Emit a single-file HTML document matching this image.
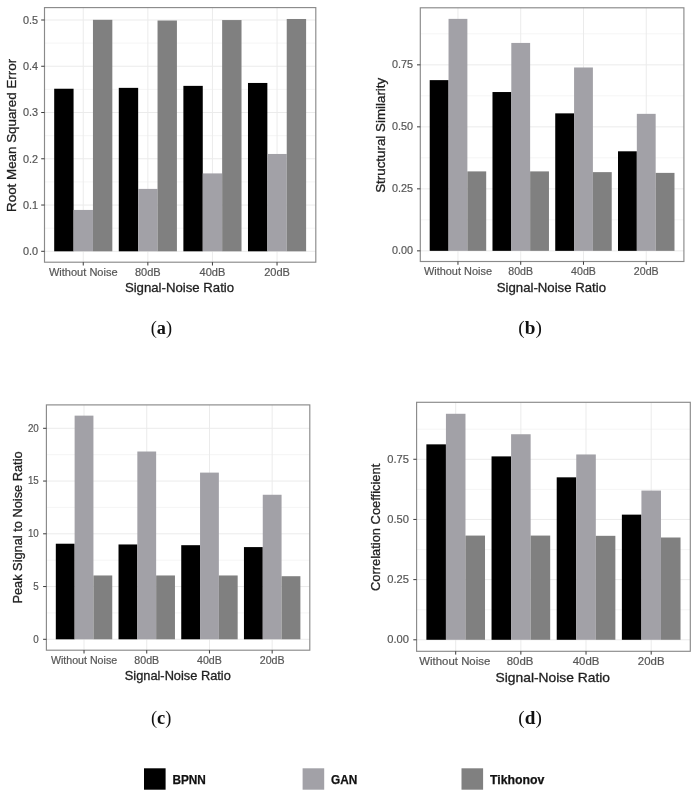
<!DOCTYPE html>
<html><head><meta charset="utf-8"><style>
html,body{margin:0;padding:0;background:#fff;}
svg{display:block;filter:blur(0.4px);}
text{font-family:"Liberation Sans",sans-serif;}
text.t{stroke:#222;stroke-width:0.3px;}
text.k{stroke:#5a5a5a;stroke-width:0.2px;}
text.lbl{font-family:"Liberation Serif",serif;}
</style></head><body>
<svg width="698" height="796" viewBox="0 0 698 796">
<rect width="698" height="796" fill="#fff"/>
<line x1="44.5" x2="315.8" y1="228.17" y2="228.17" stroke="#f3f3f3" stroke-width="0.8"/>
<line x1="44.5" x2="315.8" y1="181.91" y2="181.91" stroke="#f3f3f3" stroke-width="0.8"/>
<line x1="44.5" x2="315.8" y1="135.65" y2="135.65" stroke="#f3f3f3" stroke-width="0.8"/>
<line x1="44.5" x2="315.8" y1="89.39" y2="89.39" stroke="#f3f3f3" stroke-width="0.8"/>
<line x1="44.5" x2="315.8" y1="43.13" y2="43.13" stroke="#f3f3f3" stroke-width="0.8"/>
<line x1="44.5" x2="315.8" y1="251.3" y2="251.3" stroke="#ebebeb" stroke-width="1"/>
<line x1="44.5" x2="315.8" y1="205.04" y2="205.04" stroke="#ebebeb" stroke-width="1"/>
<line x1="44.5" x2="315.8" y1="158.78" y2="158.78" stroke="#ebebeb" stroke-width="1"/>
<line x1="44.5" x2="315.8" y1="112.52" y2="112.52" stroke="#ebebeb" stroke-width="1"/>
<line x1="44.5" x2="315.8" y1="66.26" y2="66.26" stroke="#ebebeb" stroke-width="1"/>
<line x1="44.5" x2="315.8" y1="20" y2="20" stroke="#ebebeb" stroke-width="1"/>
<line x1="83.26" x2="83.26" y1="7.6" y2="262.2" stroke="#ebebeb" stroke-width="1"/>
<line x1="147.85" x2="147.85" y1="7.6" y2="262.2" stroke="#ebebeb" stroke-width="1"/>
<line x1="212.45" x2="212.45" y1="7.6" y2="262.2" stroke="#ebebeb" stroke-width="1"/>
<line x1="277.04" x2="277.04" y1="7.6" y2="262.2" stroke="#ebebeb" stroke-width="1"/>
<rect x="54.19" y="88.74" width="19.38" height="162.56" fill="#000000"/>
<rect x="73.57" y="209.94" width="19.38" height="41.36" fill="#a2a1a7"/>
<rect x="92.95" y="19.81" width="19.38" height="231.49" fill="#808080"/>
<rect x="118.78" y="87.86" width="19.38" height="163.44" fill="#000000"/>
<rect x="138.16" y="188.9" width="19.38" height="62.4" fill="#a2a1a7"/>
<rect x="157.54" y="20.51" width="19.38" height="230.79" fill="#808080"/>
<rect x="183.38" y="85.87" width="19.38" height="165.43" fill="#000000"/>
<rect x="202.76" y="173.4" width="19.38" height="77.9" fill="#a2a1a7"/>
<rect x="222.14" y="20.05" width="19.38" height="231.25" fill="#808080"/>
<rect x="247.98" y="82.96" width="19.38" height="168.34" fill="#000000"/>
<rect x="267.35" y="153.97" width="19.38" height="97.33" fill="#a2a1a7"/>
<rect x="286.73" y="18.98" width="19.38" height="232.32" fill="#808080"/>
<rect x="44.5" y="7.6" width="271.3" height="254.6" fill="none" stroke="#8a8a8a" stroke-width="1.15"/>
<line x1="41.2" x2="44.5" y1="251.3" y2="251.3" stroke="#3a3a3a" stroke-width="1"/>
<text x="38" y="255.09" font-size="10.6" text-anchor="end" fill="#555555" class="k" textLength="15.1" lengthAdjust="spacingAndGlyphs">0.0</text>
<line x1="41.2" x2="44.5" y1="205.04" y2="205.04" stroke="#3a3a3a" stroke-width="1"/>
<text x="38" y="208.83" font-size="10.6" text-anchor="end" fill="#555555" class="k" textLength="15.1" lengthAdjust="spacingAndGlyphs">0.1</text>
<line x1="41.2" x2="44.5" y1="158.78" y2="158.78" stroke="#3a3a3a" stroke-width="1"/>
<text x="38" y="162.57" font-size="10.6" text-anchor="end" fill="#555555" class="k" textLength="15.1" lengthAdjust="spacingAndGlyphs">0.2</text>
<line x1="41.2" x2="44.5" y1="112.52" y2="112.52" stroke="#3a3a3a" stroke-width="1"/>
<text x="38" y="116.31" font-size="10.6" text-anchor="end" fill="#555555" class="k" textLength="15.1" lengthAdjust="spacingAndGlyphs">0.3</text>
<line x1="41.2" x2="44.5" y1="66.26" y2="66.26" stroke="#3a3a3a" stroke-width="1"/>
<text x="38" y="70.05" font-size="10.6" text-anchor="end" fill="#555555" class="k" textLength="15.1" lengthAdjust="spacingAndGlyphs">0.4</text>
<line x1="41.2" x2="44.5" y1="20" y2="20" stroke="#3a3a3a" stroke-width="1"/>
<text x="38" y="23.79" font-size="10.6" text-anchor="end" fill="#555555" class="k" textLength="15.1" lengthAdjust="spacingAndGlyphs">0.5</text>
<line x1="83.26" x2="83.26" y1="262.2" y2="265.5" stroke="#3a3a3a" stroke-width="1"/>
<text x="83.26" y="276" font-size="10.9" text-anchor="middle" fill="#555555" class="k" textLength="68.7" lengthAdjust="spacingAndGlyphs">Without Noise</text>
<line x1="147.85" x2="147.85" y1="262.2" y2="265.5" stroke="#3a3a3a" stroke-width="1"/>
<text x="147.85" y="276" font-size="10.9" text-anchor="middle" fill="#555555" class="k" textLength="25.77" lengthAdjust="spacingAndGlyphs">80dB</text>
<line x1="212.45" x2="212.45" y1="262.2" y2="265.5" stroke="#3a3a3a" stroke-width="1"/>
<text x="212.45" y="276" font-size="10.9" text-anchor="middle" fill="#555555" class="k" textLength="25.77" lengthAdjust="spacingAndGlyphs">40dB</text>
<line x1="277.04" x2="277.04" y1="262.2" y2="265.5" stroke="#3a3a3a" stroke-width="1"/>
<text x="277.04" y="276" font-size="10.9" text-anchor="middle" fill="#555555" class="k" textLength="25.77" lengthAdjust="spacingAndGlyphs">20dB</text>
<text x="179.5" y="292.4" font-size="13.2" text-anchor="middle" fill="#1e1e1e" class="t">Signal-Noise Ratio</text>
<text transform="translate(16.3,135.4) rotate(-90)" font-size="13.3" text-anchor="middle" fill="#1e1e1e" class="t" textLength="153" lengthAdjust="spacingAndGlyphs">Root Mean Squared Error</text>
<line x1="420.3" x2="683.9" y1="219.85" y2="219.85" stroke="#f3f3f3" stroke-width="0.8"/>
<line x1="420.3" x2="683.9" y1="157.85" y2="157.85" stroke="#f3f3f3" stroke-width="0.8"/>
<line x1="420.3" x2="683.9" y1="95.85" y2="95.85" stroke="#f3f3f3" stroke-width="0.8"/>
<line x1="420.3" x2="683.9" y1="33.85" y2="33.85" stroke="#f3f3f3" stroke-width="0.8"/>
<line x1="420.3" x2="683.9" y1="250.85" y2="250.85" stroke="#ebebeb" stroke-width="1"/>
<line x1="420.3" x2="683.9" y1="188.85" y2="188.85" stroke="#ebebeb" stroke-width="1"/>
<line x1="420.3" x2="683.9" y1="126.85" y2="126.85" stroke="#ebebeb" stroke-width="1"/>
<line x1="420.3" x2="683.9" y1="64.85" y2="64.85" stroke="#ebebeb" stroke-width="1"/>
<line x1="457.96" x2="457.96" y1="7.8" y2="261.5" stroke="#ebebeb" stroke-width="1"/>
<line x1="520.72" x2="520.72" y1="7.8" y2="261.5" stroke="#ebebeb" stroke-width="1"/>
<line x1="583.48" x2="583.48" y1="7.8" y2="261.5" stroke="#ebebeb" stroke-width="1"/>
<line x1="646.24" x2="646.24" y1="7.8" y2="261.5" stroke="#ebebeb" stroke-width="1"/>
<rect x="429.71" y="80.13" width="18.83" height="170.72" fill="#000000"/>
<rect x="448.54" y="18.87" width="18.83" height="231.98" fill="#a2a1a7"/>
<rect x="467.37" y="171.39" width="18.83" height="79.46" fill="#808080"/>
<rect x="492.48" y="92.03" width="18.83" height="158.82" fill="#000000"/>
<rect x="511.3" y="42.93" width="18.83" height="207.92" fill="#a2a1a7"/>
<rect x="530.13" y="171.39" width="18.83" height="79.46" fill="#808080"/>
<rect x="555.24" y="113.36" width="18.83" height="137.49" fill="#000000"/>
<rect x="574.07" y="67.48" width="18.83" height="183.37" fill="#a2a1a7"/>
<rect x="592.9" y="172.13" width="18.83" height="78.72" fill="#808080"/>
<rect x="618" y="151.3" width="18.83" height="99.55" fill="#000000"/>
<rect x="636.83" y="113.85" width="18.83" height="137" fill="#a2a1a7"/>
<rect x="655.66" y="172.88" width="18.83" height="77.97" fill="#808080"/>
<rect x="420.3" y="7.8" width="263.6" height="253.7" fill="none" stroke="#8a8a8a" stroke-width="1.15"/>
<line x1="417" x2="420.3" y1="250.85" y2="250.85" stroke="#3a3a3a" stroke-width="1"/>
<text x="413" y="254.42" font-size="10.8" text-anchor="end" fill="#555555" class="k">0.00</text>
<line x1="417" x2="420.3" y1="188.85" y2="188.85" stroke="#3a3a3a" stroke-width="1"/>
<text x="413" y="192.42" font-size="10.8" text-anchor="end" fill="#555555" class="k">0.25</text>
<line x1="417" x2="420.3" y1="126.85" y2="126.85" stroke="#3a3a3a" stroke-width="1"/>
<text x="413" y="130.42" font-size="10.8" text-anchor="end" fill="#555555" class="k">0.50</text>
<line x1="417" x2="420.3" y1="64.85" y2="64.85" stroke="#3a3a3a" stroke-width="1"/>
<text x="413" y="68.42" font-size="10.8" text-anchor="end" fill="#555555" class="k">0.75</text>
<line x1="457.96" x2="457.96" y1="261.5" y2="264.8" stroke="#3a3a3a" stroke-width="1"/>
<text x="457.96" y="275" font-size="10.8" text-anchor="middle" fill="#555555" class="k" textLength="68.1" lengthAdjust="spacingAndGlyphs">Without Noise</text>
<line x1="520.72" x2="520.72" y1="261.5" y2="264.8" stroke="#3a3a3a" stroke-width="1"/>
<text x="520.72" y="275" font-size="10.8" text-anchor="middle" fill="#555555" class="k" textLength="24.8" lengthAdjust="spacingAndGlyphs">80dB</text>
<line x1="583.48" x2="583.48" y1="261.5" y2="264.8" stroke="#3a3a3a" stroke-width="1"/>
<text x="583.48" y="275" font-size="10.8" text-anchor="middle" fill="#555555" class="k" textLength="24.8" lengthAdjust="spacingAndGlyphs">40dB</text>
<line x1="646.24" x2="646.24" y1="261.5" y2="264.8" stroke="#3a3a3a" stroke-width="1"/>
<text x="646.24" y="275" font-size="10.8" text-anchor="middle" fill="#555555" class="k" textLength="24.8" lengthAdjust="spacingAndGlyphs">20dB</text>
<text x="551.4" y="292.3" font-size="13.2" text-anchor="middle" fill="#1e1e1e" class="t">Signal-Noise Ratio</text>
<text transform="translate(385.3,135.3) rotate(-90)" font-size="13.2" text-anchor="middle" fill="#1e1e1e" class="t" textLength="115" lengthAdjust="spacingAndGlyphs">Structural Similarity</text>
<line x1="46.4" x2="309.8" y1="612.92" y2="612.92" stroke="#f3f3f3" stroke-width="0.8"/>
<line x1="46.4" x2="309.8" y1="560.17" y2="560.17" stroke="#f3f3f3" stroke-width="0.8"/>
<line x1="46.4" x2="309.8" y1="507.42" y2="507.42" stroke="#f3f3f3" stroke-width="0.8"/>
<line x1="46.4" x2="309.8" y1="454.67" y2="454.67" stroke="#f3f3f3" stroke-width="0.8"/>
<line x1="46.4" x2="309.8" y1="639.3" y2="639.3" stroke="#ebebeb" stroke-width="1"/>
<line x1="46.4" x2="309.8" y1="586.55" y2="586.55" stroke="#ebebeb" stroke-width="1"/>
<line x1="46.4" x2="309.8" y1="533.8" y2="533.8" stroke="#ebebeb" stroke-width="1"/>
<line x1="46.4" x2="309.8" y1="481.05" y2="481.05" stroke="#ebebeb" stroke-width="1"/>
<line x1="46.4" x2="309.8" y1="428.3" y2="428.3" stroke="#ebebeb" stroke-width="1"/>
<line x1="84.03" x2="84.03" y1="404.9" y2="650.2" stroke="#ebebeb" stroke-width="1"/>
<line x1="146.74" x2="146.74" y1="404.9" y2="650.2" stroke="#ebebeb" stroke-width="1"/>
<line x1="209.46" x2="209.46" y1="404.9" y2="650.2" stroke="#ebebeb" stroke-width="1"/>
<line x1="272.17" x2="272.17" y1="404.9" y2="650.2" stroke="#ebebeb" stroke-width="1"/>
<rect x="55.81" y="543.72" width="18.81" height="95.58" fill="#000000"/>
<rect x="74.62" y="415.64" width="18.81" height="223.66" fill="#a2a1a7"/>
<rect x="93.44" y="575.47" width="18.81" height="63.83" fill="#808080"/>
<rect x="118.52" y="544.46" width="18.81" height="94.84" fill="#000000"/>
<rect x="137.34" y="451.51" width="18.81" height="187.79" fill="#a2a1a7"/>
<rect x="156.15" y="575.47" width="18.81" height="63.83" fill="#808080"/>
<rect x="181.24" y="545.19" width="18.81" height="94.11" fill="#000000"/>
<rect x="200.05" y="472.61" width="18.81" height="166.69" fill="#a2a1a7"/>
<rect x="218.86" y="575.47" width="18.81" height="63.83" fill="#808080"/>
<rect x="243.95" y="547.09" width="18.81" height="92.21" fill="#000000"/>
<rect x="262.76" y="494.76" width="18.81" height="144.53" fill="#a2a1a7"/>
<rect x="281.58" y="576.21" width="18.81" height="63.09" fill="#808080"/>
<rect x="46.4" y="404.9" width="263.4" height="245.3" fill="none" stroke="#8a8a8a" stroke-width="1.15"/>
<line x1="43.1" x2="46.4" y1="639.3" y2="639.3" stroke="#3a3a3a" stroke-width="1"/>
<text x="38.8" y="642.72" font-size="10.4" text-anchor="end" fill="#555555" class="k" textLength="5.45" lengthAdjust="spacingAndGlyphs">0</text>
<line x1="43.1" x2="46.4" y1="586.55" y2="586.55" stroke="#3a3a3a" stroke-width="1"/>
<text x="38.8" y="589.97" font-size="10.4" text-anchor="end" fill="#555555" class="k" textLength="5.45" lengthAdjust="spacingAndGlyphs">5</text>
<line x1="43.1" x2="46.4" y1="533.8" y2="533.8" stroke="#3a3a3a" stroke-width="1"/>
<text x="38.8" y="537.22" font-size="10.4" text-anchor="end" fill="#555555" class="k" textLength="10.9" lengthAdjust="spacingAndGlyphs">10</text>
<line x1="43.1" x2="46.4" y1="481.05" y2="481.05" stroke="#3a3a3a" stroke-width="1"/>
<text x="38.8" y="484.47" font-size="10.4" text-anchor="end" fill="#555555" class="k" textLength="10.9" lengthAdjust="spacingAndGlyphs">15</text>
<line x1="43.1" x2="46.4" y1="428.3" y2="428.3" stroke="#3a3a3a" stroke-width="1"/>
<text x="38.8" y="431.72" font-size="10.4" text-anchor="end" fill="#555555" class="k" textLength="10.9" lengthAdjust="spacingAndGlyphs">20</text>
<line x1="84.03" x2="84.03" y1="650.2" y2="653.5" stroke="#3a3a3a" stroke-width="1"/>
<text x="84.03" y="663.5" font-size="10.6" text-anchor="middle" fill="#555555" class="k" textLength="66.2" lengthAdjust="spacingAndGlyphs">Without Noise</text>
<line x1="146.74" x2="146.74" y1="650.2" y2="653.5" stroke="#3a3a3a" stroke-width="1"/>
<text x="146.74" y="663.5" font-size="10.6" text-anchor="middle" fill="#555555" class="k" textLength="24.84" lengthAdjust="spacingAndGlyphs">80dB</text>
<line x1="209.46" x2="209.46" y1="650.2" y2="653.5" stroke="#3a3a3a" stroke-width="1"/>
<text x="209.46" y="663.5" font-size="10.6" text-anchor="middle" fill="#555555" class="k" textLength="24.84" lengthAdjust="spacingAndGlyphs">40dB</text>
<line x1="272.17" x2="272.17" y1="650.2" y2="653.5" stroke="#3a3a3a" stroke-width="1"/>
<text x="272.17" y="663.5" font-size="10.6" text-anchor="middle" fill="#555555" class="k" textLength="24.84" lengthAdjust="spacingAndGlyphs">20dB</text>
<text x="177.8" y="680.1" font-size="12.8" text-anchor="middle" fill="#1e1e1e" class="t">Signal-Noise Ratio</text>
<text transform="translate(21.6,527.5) rotate(-90)" font-size="12.8" text-anchor="middle" fill="#1e1e1e" class="t">Peak Signal to Noise Ratio</text>
<line x1="416.6" x2="690.3" y1="609.71" y2="609.71" stroke="#f3f3f3" stroke-width="0.8"/>
<line x1="416.6" x2="690.3" y1="549.54" y2="549.54" stroke="#f3f3f3" stroke-width="0.8"/>
<line x1="416.6" x2="690.3" y1="489.36" y2="489.36" stroke="#f3f3f3" stroke-width="0.8"/>
<line x1="416.6" x2="690.3" y1="429.19" y2="429.19" stroke="#f3f3f3" stroke-width="0.8"/>
<line x1="416.6" x2="690.3" y1="639.8" y2="639.8" stroke="#ebebeb" stroke-width="1"/>
<line x1="416.6" x2="690.3" y1="579.62" y2="579.62" stroke="#ebebeb" stroke-width="1"/>
<line x1="416.6" x2="690.3" y1="519.45" y2="519.45" stroke="#ebebeb" stroke-width="1"/>
<line x1="416.6" x2="690.3" y1="459.27" y2="459.27" stroke="#ebebeb" stroke-width="1"/>
<line x1="455.7" x2="455.7" y1="402.3" y2="651.3" stroke="#ebebeb" stroke-width="1"/>
<line x1="520.87" x2="520.87" y1="402.3" y2="651.3" stroke="#ebebeb" stroke-width="1"/>
<line x1="586.03" x2="586.03" y1="402.3" y2="651.3" stroke="#ebebeb" stroke-width="1"/>
<line x1="651.2" x2="651.2" y1="402.3" y2="651.3" stroke="#ebebeb" stroke-width="1"/>
<rect x="426.38" y="444.35" width="19.55" height="195.45" fill="#000000"/>
<rect x="445.93" y="413.78" width="19.55" height="226.02" fill="#a2a1a7"/>
<rect x="465.47" y="535.58" width="19.55" height="104.22" fill="#808080"/>
<rect x="491.54" y="456.39" width="19.55" height="183.41" fill="#000000"/>
<rect x="511.09" y="434.24" width="19.55" height="205.56" fill="#a2a1a7"/>
<rect x="530.64" y="535.58" width="19.55" height="104.22" fill="#808080"/>
<rect x="556.71" y="477.33" width="19.55" height="162.47" fill="#000000"/>
<rect x="576.26" y="454.46" width="19.55" height="185.34" fill="#a2a1a7"/>
<rect x="595.81" y="535.82" width="19.55" height="103.98" fill="#808080"/>
<rect x="621.88" y="514.64" width="19.55" height="125.16" fill="#000000"/>
<rect x="641.42" y="490.57" width="19.55" height="149.23" fill="#a2a1a7"/>
<rect x="660.98" y="537.5" width="19.55" height="102.3" fill="#808080"/>
<rect x="416.6" y="402.3" width="273.7" height="249" fill="none" stroke="#8a8a8a" stroke-width="1.15"/>
<line x1="413.3" x2="416.6" y1="639.8" y2="639.8" stroke="#3a3a3a" stroke-width="1"/>
<text x="409" y="643.37" font-size="10.8" text-anchor="end" fill="#555555" class="k" textLength="21.7" lengthAdjust="spacingAndGlyphs">0.00</text>
<line x1="413.3" x2="416.6" y1="579.62" y2="579.62" stroke="#3a3a3a" stroke-width="1"/>
<text x="409" y="583.19" font-size="10.8" text-anchor="end" fill="#555555" class="k" textLength="21.7" lengthAdjust="spacingAndGlyphs">0.25</text>
<line x1="413.3" x2="416.6" y1="519.45" y2="519.45" stroke="#3a3a3a" stroke-width="1"/>
<text x="409" y="523.02" font-size="10.8" text-anchor="end" fill="#555555" class="k" textLength="21.7" lengthAdjust="spacingAndGlyphs">0.50</text>
<line x1="413.3" x2="416.6" y1="459.27" y2="459.27" stroke="#3a3a3a" stroke-width="1"/>
<text x="409" y="462.84" font-size="10.8" text-anchor="end" fill="#555555" class="k" textLength="21.7" lengthAdjust="spacingAndGlyphs">0.75</text>
<line x1="455.7" x2="455.7" y1="651.3" y2="654.6" stroke="#3a3a3a" stroke-width="1"/>
<text x="454.8" y="664.6" font-size="10.9" text-anchor="middle" fill="#555555" class="k" textLength="71" lengthAdjust="spacingAndGlyphs">Without Noise</text>
<line x1="520.87" x2="520.87" y1="651.3" y2="654.6" stroke="#3a3a3a" stroke-width="1"/>
<text x="520.07" y="664.6" font-size="10.9" text-anchor="middle" fill="#555555" class="k" textLength="26.64" lengthAdjust="spacingAndGlyphs">80dB</text>
<line x1="586.03" x2="586.03" y1="651.3" y2="654.6" stroke="#3a3a3a" stroke-width="1"/>
<text x="586.03" y="664.6" font-size="10.9" text-anchor="middle" fill="#555555" class="k" textLength="26.64" lengthAdjust="spacingAndGlyphs">40dB</text>
<line x1="651.2" x2="651.2" y1="651.3" y2="654.6" stroke="#3a3a3a" stroke-width="1"/>
<text x="651.2" y="664.6" font-size="10.9" text-anchor="middle" fill="#555555" class="k" textLength="26.64" lengthAdjust="spacingAndGlyphs">20dB</text>
<text x="552.8" y="681.6" font-size="13.0" text-anchor="middle" fill="#1e1e1e" class="t" textLength="114.4" lengthAdjust="spacingAndGlyphs">Signal-Noise Ratio</text>
<text transform="translate(380.2,527.4) rotate(-90)" font-size="12.9" text-anchor="middle" fill="#1e1e1e" class="t">Correlation Coefficient</text>
<text x="161.4" y="333.8" class="lbl" font-size="18" text-anchor="middle" fill="#111" textLength="21.3" lengthAdjust="spacingAndGlyphs">(<tspan font-weight="bold">a</tspan>)</text>
<text x="530.1" y="333.8" class="lbl" font-size="18" text-anchor="middle" fill="#111" textLength="23.47" lengthAdjust="spacingAndGlyphs">(<tspan font-weight="bold">b</tspan>)</text>
<text x="161.2" y="723.5" class="lbl" font-size="18" text-anchor="middle" fill="#111" textLength="20.38" lengthAdjust="spacingAndGlyphs">(<tspan font-weight="bold">c</tspan>)</text>
<text x="530.1" y="723.5" class="lbl" font-size="18" text-anchor="middle" fill="#111" textLength="23.47" lengthAdjust="spacingAndGlyphs">(<tspan font-weight="bold">d</tspan>)</text>
<rect x="144" y="768.3" width="21.6" height="21.4" fill="#000000"/>
<text stroke="#111" stroke-width="0.25" x="172.4" y="783.5" font-size="12.3" fill="#111" font-weight="bold" textLength="33.49" lengthAdjust="spacingAndGlyphs">BPNN</text>
<rect x="302.6" y="768.3" width="21.6" height="21.4" fill="#a2a1a7"/>
<text stroke="#111" stroke-width="0.25" x="331" y="783.5" font-size="12.3" fill="#111" font-weight="bold" textLength="26.3" lengthAdjust="spacingAndGlyphs">GAN</text>
<rect x="461.5" y="768.3" width="21.6" height="21.4" fill="#808080"/>
<text stroke="#111" stroke-width="0.25" x="490" y="783.5" font-size="12.3" fill="#111" font-weight="bold">Tikhonov</text>
</svg>
</body></html>
